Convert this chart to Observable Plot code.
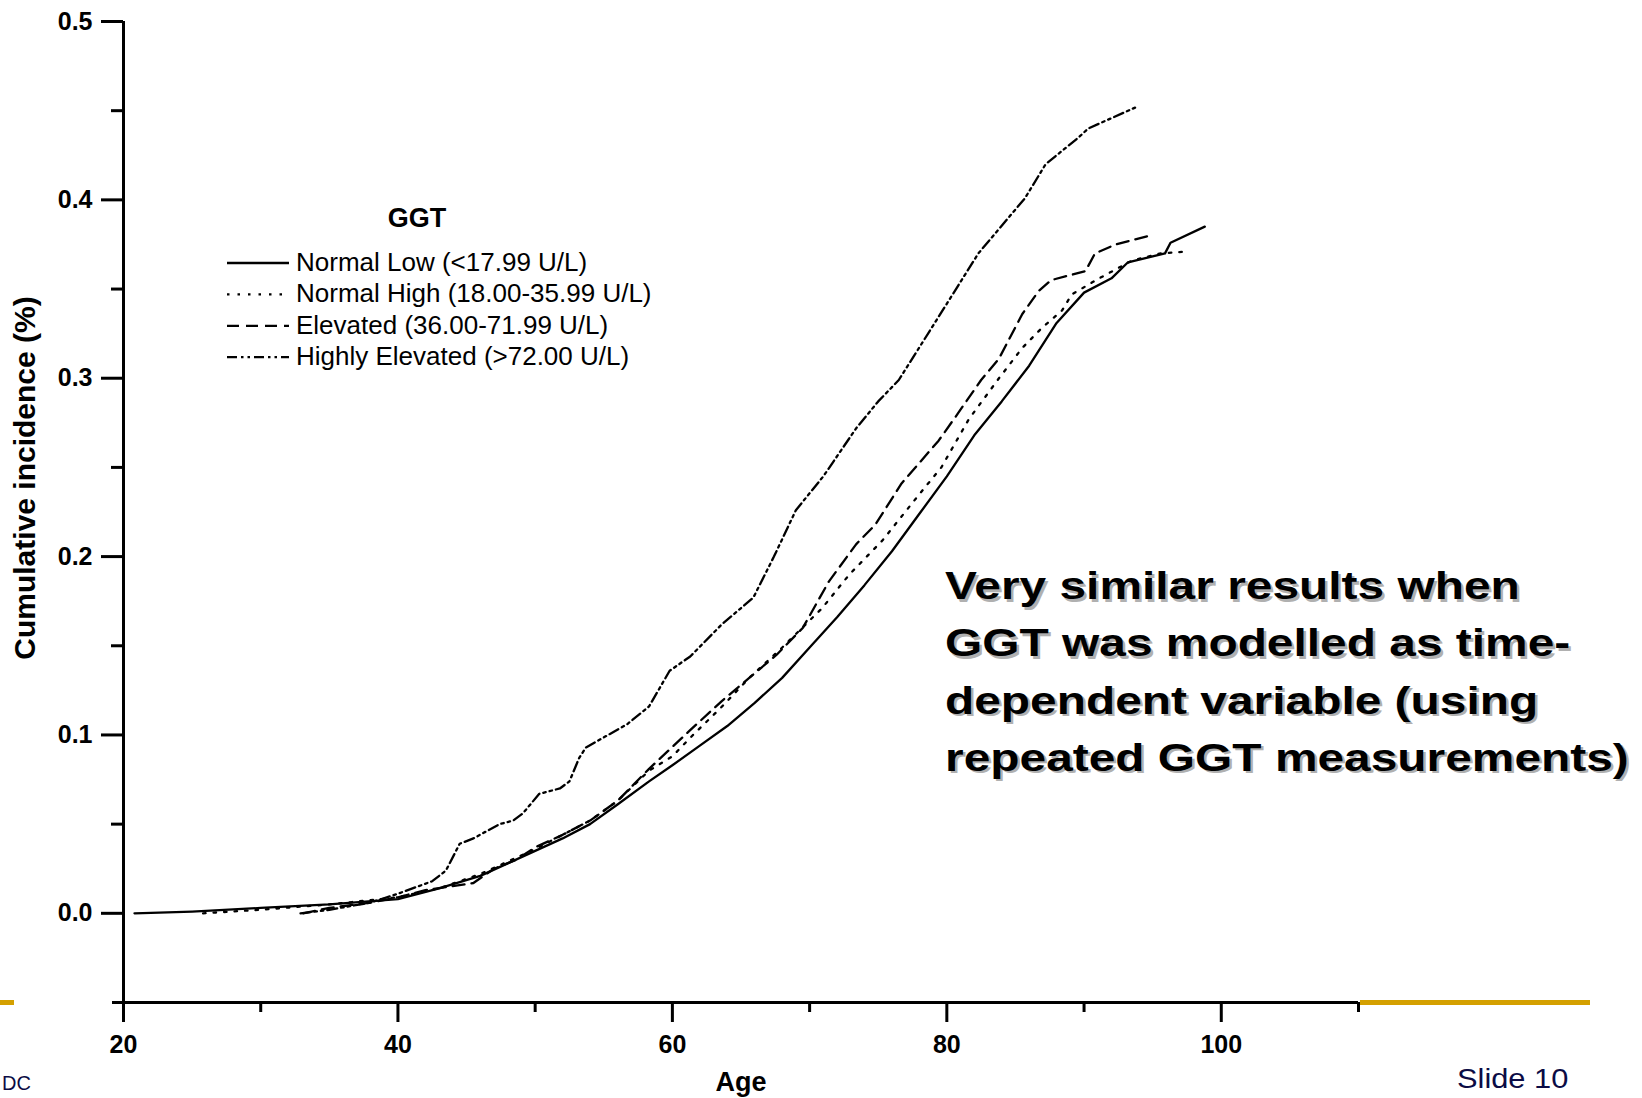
<!DOCTYPE html>
<html>
<head>
<meta charset="utf-8">
<script src="https://cdn.jsdelivr.net/npm/d3@7"></script>
<script src="https://cdn.jsdelivr.net/npm/@observablehq/plot@0.6"></script>
<style>
  html, body { margin: 0; padding: 0; background: #fff; overflow: hidden; }
  #wrap { position: relative; width: 1642px; height: 1098px; font-family: "Liberation Sans", Arial, sans-serif; }
  #chart, #overlay { position: absolute; left: 0; top: 0; }
  #overlay { pointer-events: none; }
</style>
</head>
<body>
<div id="wrap">
  <div id="chart"></div>
  <svg id="overlay" width="1642" height="1098"></svg>
</div>
<script>
// ---------- data ----------
const seriesNames = [
  "Normal Low (<17.99 U/L)",
  "Normal High (18.00-35.99 U/L)",
  "Elevated (36.00-71.99 U/L)",
  "Highly Elevated (>72.00 U/L)"
];
const legendTitle = "GGT";
const xLabel = "Age";
const yLabel = "Cumulative incidence (%)";
const annotationLines = [
  "Very similar results when",
  "GGT was modelled as time-",
  "dependent variable (using",
  "repeated GGT measurements)"
];
const slideLabel = "Slide 10";
const footerFragment = "DC";

const xMajorTicks = [20, 40, 60, 80, 100];
const xMinorTicks = [30, 50, 70, 90, 110];
const yMajorTicks = [0, 0.1, 0.2, 0.3, 0.4, 0.5];
const yMinorTicks = [0.05, 0.15, 0.25, 0.35, 0.45];

const lowAge = [20.8, 25, 30, 35, 40, 43, 46, 48, 50, 52, 54, 56, 58.3, 60, 62, 64, 66, 68, 70, 72, 74, 76, 78, 80, 82, 84, 86, 88, 90, 92, 93.2, 95.9, 96.3, 98.8];
const lowInc = [0.000, 0.001, 0.003, 0.005, 0.008, 0.014, 0.021, 0.028, 0.035, 0.042, 0.050, 0.061, 0.074, 0.083, 0.094, 0.105, 0.118, 0.132, 0.149, 0.166, 0.184, 0.203, 0.224, 0.245, 0.268, 0.287, 0.307, 0.331, 0.348, 0.356, 0.365, 0.370, 0.376, 0.385];

const highAge = [25.8, 30, 35, 40, 43, 46, 48, 50, 52, 54, 56, 58.3, 60, 61.5, 63.5, 65.6, 68, 70.9, 72.9, 75.3, 78, 79.6, 81.6, 83.8, 85.5, 86.9, 88.4, 89.1, 91.1, 93.5, 95.6, 97.5];
const highInc = [0.000, 0.002, 0.005, 0.009, 0.014, 0.022, 0.029, 0.036, 0.044, 0.052, 0.063, 0.080, 0.088, 0.100, 0.115, 0.132, 0.149, 0.171, 0.190, 0.209, 0.235, 0.250, 0.277, 0.300, 0.317, 0.328, 0.338, 0.347, 0.356, 0.366, 0.370, 0.371];

const elevAge = [33.1, 35, 38, 40, 42, 43.8, 45.5, 47, 48.6, 50, 52, 54, 56, 58.3, 61.2, 63.6, 65.6, 67.6, 69.5, 71.4, 73.4, 74.8, 76.7, 79.4, 80.6, 82.5, 83.8, 85.5, 86.7, 87.6, 90.1, 90.8, 92.3, 94.8];
const elevInc = [0.000, 0.003, 0.006, 0.009, 0.013, 0.015, 0.017, 0.025, 0.030, 0.037, 0.044, 0.052, 0.063, 0.081, 0.102, 0.119, 0.132, 0.145, 0.160, 0.186, 0.207, 0.218, 0.241, 0.265, 0.278, 0.299, 0.311, 0.336, 0.349, 0.355, 0.360, 0.370, 0.375, 0.380];

const vhighAge = [32.9, 35, 38, 40, 42.5, 43.5, 44.5, 45.5, 47.4, 48.4, 49.1, 50.3, 51.8, 52.5, 53.2, 53.7, 56.7, 58.3, 59.8, 61.3, 63.6, 65.9, 67.4, 69, 71, 73.4, 75, 76.5, 79.2, 82.3, 85.7, 87.2, 89.6, 90.3, 93.8];
const vhighInc = [0.000, 0.002, 0.006, 0.011, 0.018, 0.024, 0.039, 0.042, 0.050, 0.052, 0.056, 0.067, 0.070, 0.074, 0.087, 0.093, 0.106, 0.116, 0.136, 0.144, 0.162, 0.177, 0.200, 0.226, 0.245, 0.272, 0.287, 0.299, 0.332, 0.370, 0.401, 0.420, 0.435, 0.440, 0.452];

// ---------- styles ----------
const dashStyles = [null, "2.5,8", "12,7", "10,4,2.5,4,2.5,4"];
const ink = "#000";
const navy = "#0B0B45";
const gold = "#D4A000";

// ---------- build tidy series ----------
const seriesData = [
  [lowAge, lowInc], [highAge, highInc], [elevAge, elevInc], [vhighAge, vhighInc]
].map(([ages, incs], i) => ages.map((a, j) => ({group: seriesNames[i], age: a, inc: incs[j]})));

const lineMarks = seriesData.map((rows, i) =>
  Plot.line(rows, {x: "age", y: "inc", stroke: ink, strokeWidth: 2.3, strokeDasharray: dashStyles[i], strokeLinejoin: "round"})
);

const chart = Plot.plot({
  width: 1642,
  height: 1098,
  marginLeft: 123,
  marginRight: 284,
  marginTop: 21,
  marginBottom: 96,
  style: {fontFamily: "'Liberation Sans', Arial, sans-serif", color: ink, background: "transparent", overflow: "visible"},
  x: {domain: [20, 110]},
  y: {domain: [-0.05, 0.5]},
  marks: [
    Plot.axisY({ticks: yMajorTicks, tickSize: 22, tickPadding: 9, tickFormat: d3.format(".1f"), strokeWidth: 3, fontSize: 25, fontWeight: "bold", label: null}),
    Plot.axisY({ticks: yMinorTicks, tickSize: 12, tickFormat: () => "", strokeWidth: 3, label: null}),
    Plot.axisX({ticks: xMajorTicks, tickSize: 20, tickPadding: 13, tickFormat: d3.format("d"), strokeWidth: 3, fontSize: 25, fontWeight: "bold", label: null}),
    Plot.axisX({ticks: xMinorTicks, tickSize: 10, tickFormat: () => "", strokeWidth: 3, label: null}),
    Plot.axisX({ticks: [], label: xLabel, labelAnchor: "center", labelArrow: "none", labelOffset: 88, fontSize: 27, fontWeight: "bold"}),
    Plot.ruleX([20], {y1: -0.05, y2: 0.5, stroke: ink, strokeWidth: 3}),
    Plot.ruleY([-0.05], {x1: 20, x2: 110, stroke: ink, strokeWidth: 3, insetLeft: -11}),
    ...lineMarks
  ]
});
document.getElementById("chart").appendChild(chart);

// ---------- overlay: legend, y label, slide decorations ----------
const ov = d3.select("#overlay");
const font = "'Liberation Sans', Arial, sans-serif";

// y-axis title
ov.append("text")
  .attr("transform", "translate(35,478) rotate(-90)")
  .attr("text-anchor", "middle")
  .attr("font-family", font).attr("font-size", 30).attr("font-weight", "bold")
  .attr("fill", ink)
  .text(yLabel);

// legend
const lg = ov.append("g").attr("font-family", font);
lg.append("text")
  .attr("x", 417).attr("y", 227)
  .attr("text-anchor", "middle")
  .attr("font-size", 27).attr("font-weight", "bold")
  .text(legendTitle);
seriesNames.forEach((name, i) => {
  const base = 271 + i * 31.4;
  lg.append("line")
    .attr("x1", 227).attr("x2", 289)
    .attr("y1", base - 8).attr("y2", base - 8)
    .attr("stroke", ink).attr("stroke-width", 2.3)
    .attr("stroke-dasharray", dashStyles[i]);
  lg.append("text")
    .attr("x", 296).attr("y", base)
    .attr("font-size", 26)
    .attr("fill", ink)
    .text(name);
});

// annotation with shadow
const an = ov.append("g").attr("font-family", font).attr("font-size", 38).attr("font-weight", "bold");
annotationLines.forEach((line, i) => {
  const base = 599 + i * 57.3;
  an.append("text")
    .attr("transform", `translate(${945 + 2.5},${base + 2.5}) scale(1.26,1)`)
    .attr("fill", "#B0B0B0").text(line);
  an.append("text")
    .attr("transform", `translate(945,${base}) scale(1.26,1)`)
    .attr("fill", ink).text(line);
});

// slide decorations
ov.append("rect").attr("x", 0).attr("y", 1000).attr("width", 14).attr("height", 5).attr("fill", gold);
ov.append("rect").attr("x", 1360).attr("y", 1000).attr("width", 230).attr("height", 5).attr("fill", gold);
ov.append("text")
  .attr("transform", "translate(1457,1088) scale(1.1,1)")
  .attr("font-family", font).attr("font-size", 28).attr("fill", navy)
  .text(slideLabel);
ov.append("text")
  .attr("x", 2).attr("y", 1090)
  .attr("font-family", font).attr("font-size", 20).attr("fill", navy)
  .text(footerFragment);
</script>
</body>
</html>
